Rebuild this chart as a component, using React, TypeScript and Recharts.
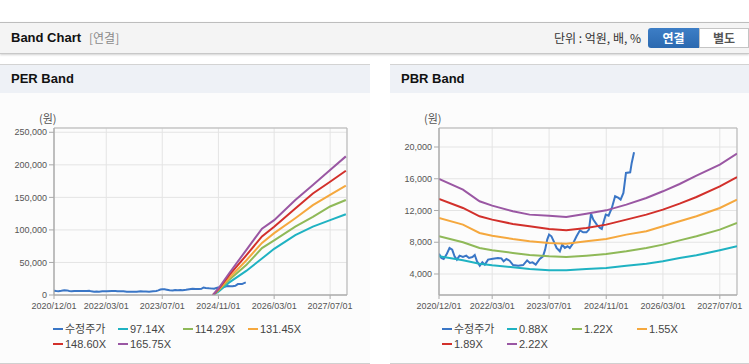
import { LineChart, Line, XAxis, YAxis, CartesianGrid, ReferenceArea } from "recharts";

const X_START = "2020-12-01";
const X_END = "2027-11-25";
const TICK_DATES = ["2020-12-01", "2022-03-01", "2023-07-01", "2024-11-01", "2026-03-01", "2027-07-01"];
const TICK_LABELS = ["2020/12/01", "2022/03/01", "2023/07/01", "2024/11/01", "2026/03/01", "2027/07/01"];

// 수정주가 (same series in both panels)
const PRICE_DATES = [
  "2020-12-01", "2020-12-21", "2021-01-10", "2021-02-03", "2021-03-01", "2021-03-24", "2021-04-13",
  "2021-05-03", "2021-05-26", "2021-06-24", "2021-07-22", "2021-08-15", "2021-09-13", "2021-10-03",
  "2021-10-22", "2021-11-15", "2021-12-07", "2021-12-28", "2022-01-25", "2022-03-07", "2022-04-19",
  "2022-05-19", "2022-06-07", "2022-07-01", "2022-07-28", "2022-08-27", "2022-10-10", "2022-11-21",
  "2022-12-25", "2023-01-18", "2023-02-09", "2023-03-09", "2023-04-12", "2023-05-10", "2023-05-28",
  "2023-06-15", "2023-07-01", "2023-07-21", "2023-08-10", "2023-09-03", "2023-10-01", "2023-10-21",
  "2023-11-13", "2023-12-06", "2023-12-25", "2024-01-24", "2024-02-21", "2024-03-21", "2024-04-18",
  "2024-05-16", "2024-06-06", "2024-06-24", "2024-07-13", "2024-08-12", "2024-09-09", "2024-09-24",
  "2024-10-07", "2024-10-28", "2024-11-21", "2024-12-19", "2025-01-16", "2025-02-14", "2025-03-04",
  "2025-03-28", "2025-04-19", "2025-05-25", "2025-06-07", "2025-06-27",
];
const PRICE = [
  6560, 6020, 5890, 6440, 7280, 7070, 6230,
  5810, 6310, 6140, 6310, 6020, 6140, 6390,
  5600, 5050, 5470, 5180, 5810, 5930, 6020,
  5970, 5600, 5890, 5680, 5130, 5050, 5130,
  5720, 5390, 5470, 5180, 5890, 6230, 7070,
  8330, 8960, 8750, 8120, 7280, 6860, 7700,
  7280, 7490, 7280, 7910, 8750, 9500, 9250,
  9250, 9590, 11600, 10850, 10220, 9800, 9670,
  10430, 11480, 11350, 12320, 13790, 13580, 13370,
  14210, 16730, 16810, 17990, 19330,
];

// PER band
const PER_BAND_DATES = [
  "2024-09-15", "2024-11-01", "2025-02-01", "2025-07-01", "2025-11-15",
  "2026-03-01", "2026-09-01", "2027-02-01", "2027-07-01", "2027-11-15",
];
const PER_97 = [0, 5000, 19000, 37000, 56000, 71000, 92000, 105000, 115000, 124000];
const PER_114 = [0, 7000, 23000, 46000, 72000, 84000, 105000, 120000, 136000, 146000];
const PER_131 = [0, 8000, 26000, 53000, 80000, 95000, 118000, 138000, 154000, 168000];
const PER_148 = [0, 9000, 30000, 61000, 90000, 105000, 133000, 156000, 174000, 191000];
const PER_165 = [0, 10000, 33000, 69000, 102000, 115000, 146000, 169000, 192000, 213000];
const PER_NAMES = ["수정주가", "97.14X", "114.29X", "131.45X", "148.60X", "165.75X"];
const PER_TICKS = [0, 50000, 100000, 150000, 200000, 250000];

// PBR band
const PBR_BAND_DATES = [
  "2020-12-01", "2021-06-24", "2021-11-13", "2022-03-01", "2022-08-25", "2023-01-15",
  "2023-07-01", "2023-11-25", "2024-05-15", "2024-11-01", "2025-04-22", "2025-10-10",
  "2026-03-01", "2026-07-22", "2026-12-13", "2027-07-01", "2027-11-25",
];
const PBR_088 = [6230, 5720, 5300, 5090, 4840, 4630, 4460, 4460, 4630, 4760, 5050, 5300, 5600, 6020, 6350, 6980, 7490];
const PBR_122 = [8750, 7990, 7280, 6980, 6650, 6390, 6230, 6140, 6310, 6520, 6860, 7280, 7700, 8240, 8750, 9590, 10430];
const PBR_155 = [11060, 10220, 9170, 8830, 8410, 8120, 7910, 7820, 8120, 8410, 8960, 9380, 10010, 10640, 11270, 12320, 13370];
const PBR_189 = [13450, 12320, 11270, 10850, 10300, 10010, 9670, 9500, 9800, 10220, 10850, 11480, 12110, 12860, 13700, 15050, 16220];
const PBR_222 = [15970, 14630, 13160, 12610, 11900, 11480, 11350, 11180, 11600, 12020, 12740, 13580, 14420, 15340, 16390, 17780, 19160];
const PBR_NAMES = ["수정주가", "0.88X", "1.22X", "1.55X", "1.89X", "2.22X"];
const PBR_TICKS = [4000, 8000, 12000, 16000, 20000];

const COLORS = ["#3a76c6", "#1fb2c2", "#8fb958", "#f5a83e", "#d2302b", "#9a57a3"];

const FONT = '"Liberation Sans", "Noto Sans CJK KR", sans-serif';
const KFONT = '"Noto Sans CJK KR", "Liberation Sans", sans-serif';

const X0 = Date.parse(X_START);
const X1 = Date.parse(X_END);
const XTICKS = TICK_DATES.map((d) => Date.parse(d));

const pts = (dates: string[], vals: number[]) => dates.map((d, i) => ({ t: Date.parse(d), v: vals[i] }));

type PanelProps = {
  left: number;
  width: number;
  title: string;
  names: string[];
  series: Array<{ t: number; v: number }[]>;
  yDomain: [number, number];
  yTicks: number[];
  yWidth: number;
  unitLeft: number;
  legendLeft: number;
};

function BandPanel({ left, width, title, names, series, yDomain, yTicks, yWidth, unitLeft, legendLeft }: PanelProps) {
  const tickStyle = { fontSize: 9, fill: "#555", fontFamily: FONT };
  return (
    <div
      style={{
        position: "absolute",
        left,
        top: 64,
        width,
        height: 298,
        background: "#fcfcfc",
        borderTop: "1px solid #d3d3d3",
        borderBottom: "1px solid #d0d0d0",
      }}
    >
      <div
        style={{
          height: 28,
          background: "#eef1f6",
          fontFamily: FONT,
          fontWeight: "bold",
          fontSize: 13,
          color: "#111",
          lineHeight: "28px",
          paddingLeft: 11,
        }}
      >
        {title}
      </div>
      <div style={{ position: "absolute", left: unitLeft, top: 46, fontFamily: KFONT, fontSize: 11, color: "#555", lineHeight: "14px" }}>
        (원)
      </div>
      <div style={{ position: "absolute", left: 0, top: 28 }}>
        <LineChart width={width} height={222} margin={{ top: 35, right: width - 347, left: 0, bottom: 0 }}>
          <CartesianGrid stroke="#e4e4e4" />
          <XAxis
            dataKey="t"
            type="number"
            domain={[X0, X1]}
            ticks={XTICKS}
            allowDataOverflow
            tickFormatter={(v: number) => TICK_LABELS[XTICKS.indexOf(v)] ?? ""}
            stroke="#aaa"
            tickSize={4}
            tickMargin={4}
            height={20}
            tick={tickStyle}
            interval={0}
          />
          <YAxis
            type="number"
            domain={yDomain}
            ticks={yTicks}
            allowDataOverflow
            width={yWidth}
            stroke="#aaa"
            tickSize={5}
            tickMargin={2}
            tick={tickStyle}
            interval={0}
            tickFormatter={(v: number) => v.toLocaleString("en-US")}
          />
          <ReferenceArea x1={X0} x2={X1} y1={yDomain[0]} y2={yDomain[1]} fill="none" stroke="#b5b5b5" ifOverflow="visible" />
          {series.map((data, i) => (
            <Line
              key={names[i]}
              data={data}
              dataKey="v"
              type="linear"
              stroke={COLORS[i]}
              strokeWidth={2}
              dot={false}
              isAnimationActive={false}
            />
          ))}
        </LineChart>
      </div>
      {names.map((n, i) => (
        <div
          key={n}
          style={{
            position: "absolute",
            left: legendLeft + (i % 4) * 65,
            top: 258 + Math.floor(i / 4) * 15,
            height: 12,
            lineHeight: "12px",
            display: "flex",
            alignItems: "center",
            fontFamily: FONT,
            fontSize: 11,
            color: "#444",
            whiteSpace: "nowrap",
          }}
        >
          <span style={{ display: "inline-block", width: 10, height: 2.5, background: COLORS[i], marginRight: 2 }} />
          {n}
        </div>
      ))}
    </div>
  );
}

export default function App() {
  const price = pts(PRICE_DATES, PRICE);
  const perSeries = [price, ...[PER_97, PER_114, PER_131, PER_148, PER_165].map((s) => pts(PER_BAND_DATES, s))];
  const pbrSeries = [price, ...[PBR_088, PBR_122, PBR_155, PBR_189, PBR_222].map((s) => pts(PBR_BAND_DATES, s))];

  return (
    <div style={{ position: "relative", width: 749, height: 364, overflow: "hidden", background: "#fff" }}>
      <style>{"body{margin:0}"}</style>
      <div
        style={{
          position: "absolute",
          left: 0,
          top: 22,
          width: 749,
          height: 30,
          background: "#f4f4f4",
          borderTop: "1px solid #bdbdbd",
          borderBottom: "1px solid #c8c8c8",
          boxShadow: "0 1px 2px rgba(0,0,0,0.18)",
        }}
      >
        <span style={{ position: "absolute", left: 11, top: 7, fontFamily: FONT, fontWeight: "bold", fontSize: 13, color: "#111" }}>
          Band Chart
        </span>
        <span style={{ position: "absolute", left: 89, top: 7, fontFamily: KFONT, fontSize: 12, color: "#8a8a8a", lineHeight: "16px" }}>
          [연결]
        </span>
        <span style={{ position: "absolute", right: 108, top: 7, fontFamily: KFONT, fontSize: 12, color: "#333", lineHeight: "16px" }}>
          단위 : 억원, 배, %
        </span>
        <div
          style={{
            position: "absolute",
            left: 648,
            top: 5,
            width: 51,
            height: 20,
            background: "linear-gradient(#3d7ec6, #2b69b0)",
            borderRadius: "3px 0 0 3px",
            color: "#fff",
            fontFamily: KFONT,
            fontWeight: "bold",
            fontSize: 12,
            lineHeight: "20px",
            textAlign: "center",
          }}
        >
          연결
        </div>
        <div
          style={{
            position: "absolute",
            left: 699,
            top: 5,
            width: 48,
            height: 18,
            background: "#fff",
            border: "1px solid #c4c4c4",
            color: "#555",
            fontFamily: KFONT,
            fontWeight: "bold",
            fontSize: 12,
            lineHeight: "18px",
            textAlign: "center",
          }}
        >
          별도
        </div>
      </div>
      <BandPanel
        left={0}
        width={370}
        title="PER Band"
        names={PER_NAMES}
        series={perSeries}
        yDomain={[0, 256600]}
        yTicks={PER_TICKS}
        yWidth={54}
        unitLeft={39}
        legendLeft={53}
      />
      <BandPanel
        left={390}
        width={359}
        title="PBR Band"
        names={PBR_NAMES}
        series={pbrSeries}
        yDomain={[1354, 22394]}
        yTicks={PBR_TICKS}
        yWidth={49}
        unitLeft={34}
        legendLeft={52}
      />
    </div>
  );
}
